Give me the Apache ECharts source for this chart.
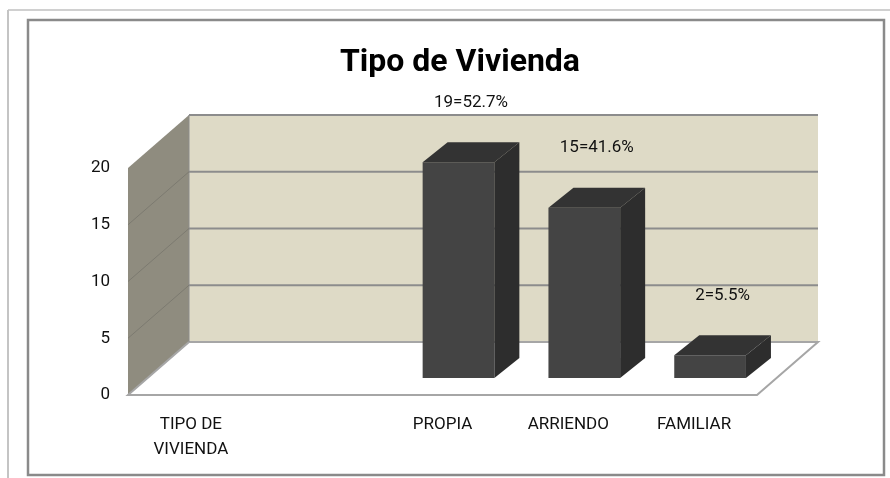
<!DOCTYPE html>
<html>
<head>
<meta charset="utf-8">
<script src="https://cdn.jsdelivr.net/npm/echarts@6/dist/echarts.min.js"></script>
<style>
  html, body { margin: 0; padding: 0; background: #fff; }
  #chart { width: 890px; height: 478px; }
</style>
</head>
<body>
<div id="chart"></div>
<script>
// data
var categories = ['TIPO DE\nVIVIENDA', '', 'PROPIA', 'ARRIENDO', 'FAMILIAR'];
var counts = [null, null, 19, 15, 2];
var percents = [null, null, 52.7, 41.6, 5.5];
var yTicks = [0, 5, 10, 15, 20];

var FONT = 'Roboto, "Liberation Sans", Arial, sans-serif';
var wallDepth = [61, -53];   // oblique offset of back wall
var barFront = [16, -17];    // bars stand a bit behind the front plane
var barDepth = [25, -20];

var chart = echarts.init(document.getElementById('chart'));

function renderWalls(params, api) {
  var cs = params.coordSys;
  var x0 = cs.x, x1 = cs.x + cs.width;
  var dx = wallDepth[0], dy = wallDepth[1];
  var yMax = yTicks[yTicks.length - 1];
  var yb = api.coord([0, 0])[1], yt = api.coord([0, yMax])[1];
  var kids = [];

  kids.push({ type: 'rect', shape: { x: x0 + dx, y: yt + dy, width: x1 - x0, height: yb - yt },
    style: { fill: '#dedac6' } });
  kids.push({ type: 'polygon', shape: { points: [[x0, yb], [x0, yt], [x0 + dx, yt + dy], [x0 + dx, yb + dy]] },
    style: { fill: '#8f8c7f' } });
  kids.push({ type: 'polygon', shape: { points: [[x0, yb], [x1, yb], [x1 + dx, yb + dy], [x0 + dx, yb + dy]] },
    style: { fill: '#ffffff', stroke: '#a6a6a6', lineWidth: 2 } });
  kids.push({ type: 'line', shape: { x1: x0 + dx, y1: yt + dy, x2: x0 + dx, y2: yb + dy },
    style: { stroke: '#8c8c8c', lineWidth: 1 } });

  yTicks.forEach(function (v) {
    if (v === 0) return;
    var y = api.coord([0, v])[1];
    kids.push({ type: 'line', shape: { x1: x0 + dx, y1: y + dy, x2: x1 + dx, y2: y + dy },
      style: { stroke: '#8c8c8c', lineWidth: 2 } });
    if (v < yMax) {
      kids.push({ type: 'line', shape: { x1: x0, y1: y, x2: x0 + dx, y2: y + dy },
        style: { stroke: '#7c7a70', lineWidth: 1 } });
    }
  });
  return { type: 'group', children: kids };
}

function renderBar(params, api) {
  var v = api.value(1);
  if (v == null || isNaN(v)) return null;
  var i = api.value(0);
  var top = api.coord([i, v]), base = api.coord([i, 0]);
  var w = api.size([1, 0])[0] * 0.57;
  var l = top[0] - w / 2 + barFront[0], r = l + w;
  var t = top[1] + barFront[1], b = base[1] + barFront[1];
  var dx = barDepth[0], dy = barDepth[1];
  var txt = counts[params.dataIndex] + '=' + percents[params.dataIndex] + '%';
  return {
    type: 'group',
    children: [
      { type: 'rect', shape: { x: l, y: t, width: w, height: b - t }, style: { fill: '#444444' } },
      { type: 'polygon', shape: { points: [[r, t], [r + dx, t + dy], [r + dx, b + dy], [r, b]] },
        style: { fill: '#2d2d2d' } },
      { type: 'polygon', shape: { points: [[l, t], [l + dx, t + dy], [r + dx, t + dy], [r, t]] },
        style: { fill: '#333333' } },
      { type: 'text', x: (l + r + dx) / 2, y: t + dy - 40,
        style: { text: txt, fill: '#111', font: '17px ' + FONT, align: 'center', verticalAlign: 'middle' } }
    ]
  };
}

var option = {
  backgroundColor: '#ffffff',
  animation: false,
  title: {
    text: 'Tipo de Vivienda',
    left: 455,
    top: 42,
    textAlign: 'center',
    textStyle: { fontFamily: FONT, fontSize: 32, fontWeight: 'bold', color: '#000' }
  },
  graphic: [
    { type: 'line', shape: { x1: 8, y1: 10, x2: 890, y2: 10 }, style: { stroke: '#d0d0d0', lineWidth: 2 } },
    { type: 'line', shape: { x1: 8, y1: 10, x2: 8, y2: 478 }, style: { stroke: '#c4c4c4', lineWidth: 2 } },
    { type: 'rect', shape: { x: 28, y: 20, width: 856, height: 455 },
      style: { fill: 'none', stroke: '#8a8a8a', lineWidth: 2.5 } }
  ],
  grid: { left: 128, right: 133, top: 168, bottom: 83 },
  xAxis: {
    type: 'category',
    data: categories,
    axisLine: { show: false },
    axisTick: { show: false },
    axisLabel: { interval: 0, margin: 17, fontFamily: FONT, fontSize: 17, lineHeight: 25, color: '#111' }
  },
  yAxis: {
    type: 'value',
    min: 0,
    max: 20,
    interval: 5,
    splitLine: { show: false },
    axisLine: { show: false },
    axisTick: { show: false },
    axisLabel: { margin: 18, fontFamily: FONT, fontSize: 17, color: '#111' }
  },
  series: [
    {
      type: 'custom',
      renderItem: renderWalls,
      data: [[0, 0]],
      silent: true,
      z: 1
    },
    {
      type: 'custom',
      renderItem: renderBar,
      data: categories.map(function (c, i) { return [i, counts[i]]; }),
      z: 2
    }
  ]
};

chart.setOption(option);
</script>
</body>
</html>
